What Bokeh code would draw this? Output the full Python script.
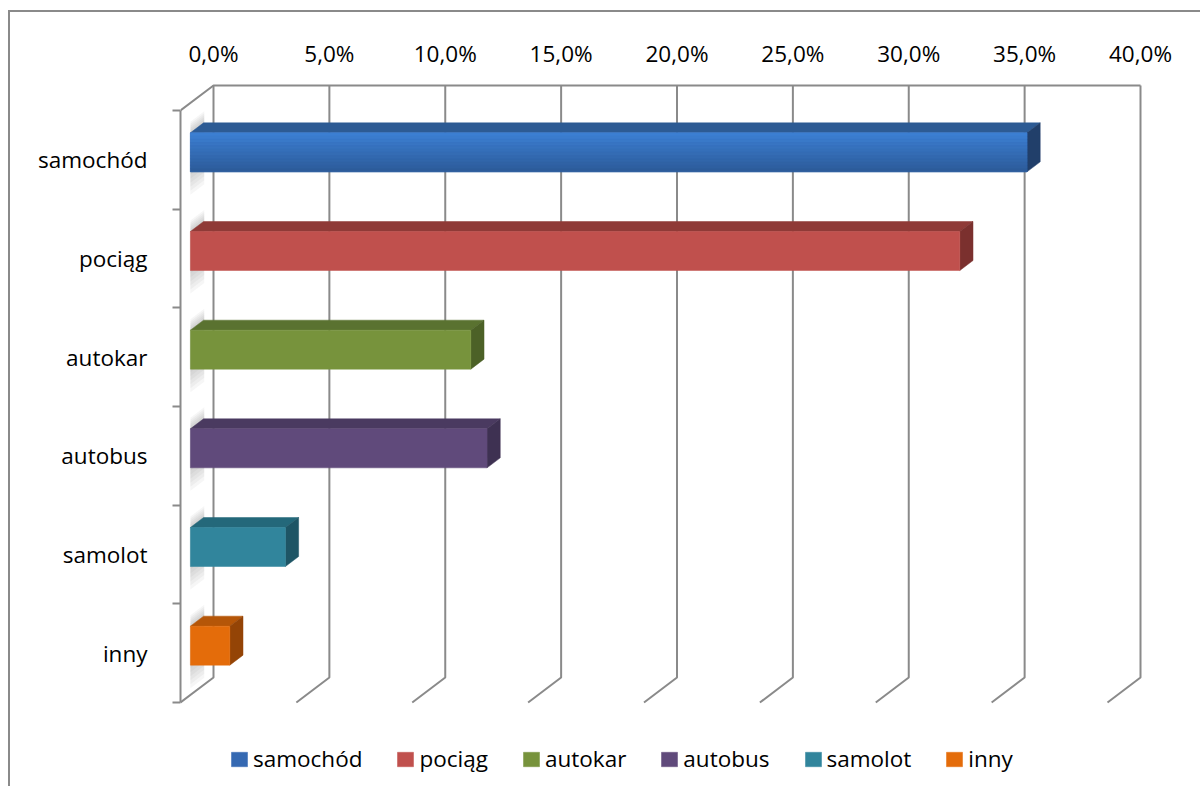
from bokeh.plotting import figure
from bokeh.models import Range1d, FixedTicker, Legend, LegendItem
from bokeh.embed import file_html
from bokeh.resources import INLINE

# ---------------- data ----------------
categories = ["samochód", "pociąg", "autokar", "autobus", "samolot", "inny"]
shares = [36.1, 33.2, 12.1, 12.8, 4.1, 1.7]
tick_values = [0, 5, 10, 15, 20, 25, 30, 35, 40]
tick_labels = ["0,0%", "5,0%", "10,0%", "15,0%", "20,0%", "25,0%", "30,0%", "35,0%", "40,0%"]

# ---------------- styles ----------------
front_colors = ["#3569B2", "#C0504D", "#77933C", "#604A7B", "#31859C", "#E46C0A"]
top_colors = ["#2D5B94", "#8F3A37", "#5A7230", "#4A3A60", "#24687A", "#B55608"]
side_colors = ["#213F6A", "#7B302E", "#4C6127", "#3E3152", "#1E5565", "#944406"]
blue_top, blue_bottom = (0x3C, 0x7F, 0xD2), (0x2D, 0x5C, 0x9B)
GRID = "#8A8A8A"
FONT = "Open Sans"
FSIZE = "22.5px"

# ---------------- geometry (pixels) ----------------
OX, OY = 10, 12                 # page position of canvas (after margin + border)
W, H = 1192, 776
LEFT, TOP = 180 - OX, 80 - OY   # frame offsets inside canvas
FW, FH = W - LEFT, H - TOP
PX_PER_PCT = (1140 - 213) / 40.0
PX_PER_CAT = (702 - 110) / 6.0
DEPTH_X_PX, DEPTH_Y_PX = 33.0, 25.0
Y_TOP_PX = 110 - 80

n = len(categories)
DX = DEPTH_X_PX / PX_PER_PCT
DY = DEPTH_Y_PX / PX_PER_CAT
x_start = -DEPTH_X_PX / PX_PER_PCT
x_end = x_start + FW / PX_PER_PCT
y_end = n + Y_TOP_PX / PX_PER_CAT
y_start = y_end - FH / PX_PER_CAT


def pt(v, yf, d):
    """point at value v, front-plane y yf, depth d (0 front, 1 back)"""
    return v - (1 - d) * DX, yf + d * DY


p = figure(width=W, height=H, x_range=Range1d(x_start, x_end), y_range=Range1d(y_start, y_end),
           x_axis_location="above", toolbar_location=None, output_backend="svg",
           min_border_left=LEFT, min_border_top=TOP, min_border_right=0, min_border_bottom=0,
           outline_line_color=None, background_fill_color="white", border_fill_color="white",
           margin=(10, 0, 0, 8),
           styles={"border-top": "2px solid #8A8A8A", "border-left": "2px solid #8A8A8A"})
p.xgrid.visible = False
p.ygrid.visible = False

# ---------------- walls / grid ----------------
xs, ys = [], []
for t in tick_values:
    a = pt(t, 0, 1); b = pt(t, n, 1); c = pt(t, 0, 0)
    xs.append([c[0], a[0], b[0]]); ys.append([c[1], a[1], b[1]])
a = pt(tick_values[0], n, 1); b = pt(tick_values[-1], n, 1); c = pt(tick_values[0], n, 0)
xs.append([c[0], a[0], b[0]]); ys.append([c[1], a[1], b[1]])
p.multi_line(xs, ys, line_color=GRID, line_width=2)

# ---------------- shadows on side wall ----------------
h = 19.5 / PX_PER_CAT
for i in range(n):
    yc = n - 0.5 - i
    for k in range(6):
        up = (1 + 2 * k) / PX_PER_CAT
        dn = (3 + 4 * k) / PX_PER_CAT
        d0, d1 = 0.30, 0.72
        pts = [pt(0, yc + h + up, d0), pt(0, yc + h + up, d1), pt(0, yc - h - dn, d1), pt(0, yc - h - dn, d0)]
        p.patch([q[0] for q in pts], [q[1] for q in pts], fill_color="#808080", fill_alpha=0.07, line_color=None)

# ---------------- bars ----------------
D_FRONT, D_BACK = 0.3, 0.7
front_renderers = []
for i, (cat, v) in enumerate(zip(categories, shares)):
    yc = n - 0.5 - i
    f0 = pt(0, yc - h, D_FRONT)
    f1 = pt(v, yc + h, D_FRONT)
    # top face
    tp = [pt(0, yc + h, D_FRONT), pt(v, yc + h, D_FRONT), pt(v, yc + h, D_BACK), pt(0, yc + h, D_BACK)]
    p.patch([q[0] for q in tp], [q[1] for q in tp], fill_color=top_colors[i], line_color=top_colors[i], line_width=0.5)
    # side face
    sp = [pt(v, yc + h, D_FRONT), pt(v, yc - h, D_FRONT), pt(v, yc - h, D_BACK), pt(v, yc + h, D_BACK)]
    p.patch([q[0] for q in sp], [q[1] for q in sp], fill_color=side_colors[i], line_color=side_colors[i], line_width=0.5)
    # front face
    r = p.quad(left=[f0[0]], right=[f1[0]], bottom=[f0[1]], top=[f1[1]],
               fill_color=front_colors[i], line_color=front_colors[i], line_width=0.5)
    front_renderers.append(r)
    if i == 0:
        steps = 12
        lefts, rights, bots, tops, cols = [], [], [], [], []
        for s in range(steps):
            fr = s / (steps - 1)
            col = "#%02X%02X%02X" % tuple(int(round(blue_top[c] + (blue_bottom[c] - blue_top[c]) * fr)) for c in range(3))
            t_ = f1[1] - (f1[1] - f0[1]) * s / steps
            b_ = f1[1] - (f1[1] - f0[1]) * (s + 1) / steps
            lefts.append(f0[0]); rights.append(f1[0]); tops.append(t_); bots.append(b_); cols.append(col)
        p.quad(left=lefts, right=rights, bottom=bots, top=tops, fill_color=cols, line_color=cols, line_width=0.5)

# ---------------- axes ----------------
xa = p.xaxis[0]
xa.ticker = FixedTicker(ticks=tick_values)
xa.major_label_overrides = {t: l for t, l in zip(tick_values, tick_labels)}
xa.axis_line_color = None
xa.major_tick_line_color = None
xa.minor_tick_line_color = None
xa.major_tick_out = 0
xa.major_tick_in = 0
xa.major_label_standoff = 12
xa.major_label_text_font = FONT
xa.major_label_text_font_size = FSIZE
xa.major_label_text_color = "black"

centers = [n - 0.5 - i for i in range(n)]
ya = p.yaxis[0]
ya.ticker = FixedTicker(ticks=centers, minor_ticks=list(range(n + 1)))
ya.major_label_overrides = {c: cat for c, cat in zip(centers, categories)}
ya.bounds = (0, n)
ya.axis_line_color = GRID
ya.axis_line_width = 2
ya.major_tick_line_color = None
ya.major_tick_out = 0
ya.major_tick_in = 0
ya.minor_tick_line_color = GRID
ya.minor_tick_line_width = 2
ya.minor_tick_out = 8
ya.minor_tick_in = 0
ya.major_label_standoff = 25
ya.major_label_text_font = FONT
ya.major_label_text_font_size = FSIZE
ya.major_label_text_color = "black"

# ---------------- legend ----------------
legend = Legend(items=[LegendItem(label=c, renderers=[r]) for c, r in zip(categories, front_renderers)],
                orientation="horizontal", location=(49, 14), glyph_width=20, glyph_height=18,
                label_standoff=4, spacing=33, padding=0, margin=0, border_line_color=None,
                background_fill_alpha=0, label_text_font=FONT, label_text_font_size=FSIZE,
                label_text_color="black")
p.add_layout(legend)

open("out.html", "w").write(file_html(p, INLINE))
